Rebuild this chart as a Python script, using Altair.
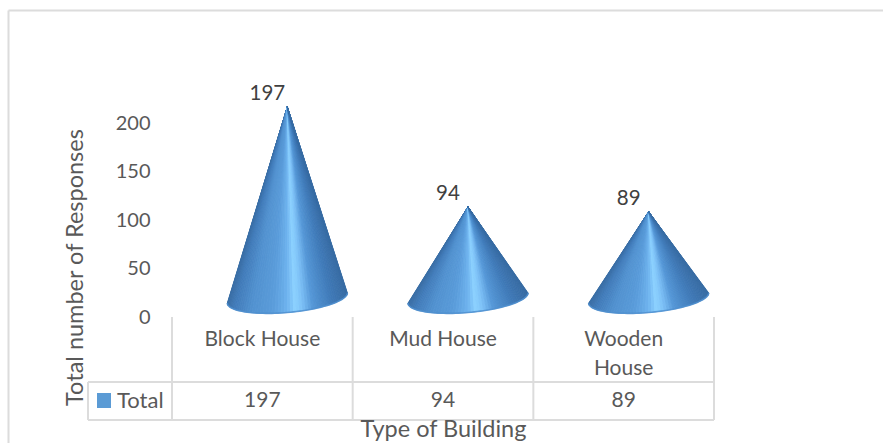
import altair as alt
import numpy as np
import pandas as pd

# Survey counts per building type
categories = ["Block House", "Mud House", "Wooden House"]
category_lines = ["Block House", "Mud House", "Wooden\nHouse"]
responses = [197, 94, 89]
y_ticks = [0, 50, 100, 150, 200]

# Layout of the plot area inside the 883x443 canvas
LEFT, TOP, PLOT_W, PLOT_H = 172, 30, 542, 287
PX_PER_VALUE = 0.97
PX_PER_COLUMN = PLOT_W / len(categories)
Y_DOMAIN = [-19 / PX_PER_VALUE, (PLOT_H - 19) / PX_PER_VALUE]

FONT = "Lato"
TEXT = "#595959"
LINE = "#dcdcdc"

# Cone geometry, in pixels relative to the base centre
CONE_SHIFT = 25
RADIUS_X, RADIUS_Y, BASE_TILT = 60, 14.5, 0.085
SECTORS = 60
SHADE_AT = [0.0, 0.06, 0.2, 0.38, 0.5, 0.57, 0.63, 0.72, 0.88, 1.0]
SHADE_RGB = [
    (58, 110, 165), (66, 124, 186), (82, 146, 208), (90, 156, 218), (110, 178, 238),
    (141, 210, 255), (124, 192, 246), (84, 150, 214), (64, 122, 184), (56, 108, 164),
]


def shade(fraction):
    rgb = [np.interp(fraction, SHADE_AT, [c[i] for c in SHADE_RGB]) for i in range(3)]
    return "#%02x%02x%02x" % tuple(int(round(v)) for v in rgb)


def base_point(index, theta):
    """Front rim point of a cone's base, in axis units."""
    dx = RADIUS_X * np.cos(theta)
    dy = -RADIUS_Y * np.sin(theta) - BASE_TILT * dx
    return index + 0.5 + (CONE_SHIFT + dx) / PX_PER_COLUMN, -dy / PX_PER_VALUE


sector_rows, rim_rows = [], []
thetas = np.linspace(np.pi, 2 * np.pi, SECTORS + 1)
for i, (name, value) in enumerate(zip(categories, responses)):
    tip = (i + 0.5 + CONE_SHIFT / PX_PER_COLUMN, value)
    for s in range(SECTORS):
        mid = (np.cos((thetas[s] + thetas[s + 1]) / 2) + 1) / 2
        corners = [tip, base_point(i, thetas[s]), base_point(i, thetas[s + 1])]
        for k, (px, py) in enumerate(corners):
            sector_rows.append(
                dict(sector=f"{name}-{s}", step=k, pos=px, val=py, tone=shade(mid))
            )
    for s, t in enumerate(thetas):
        px, py = base_point(i, t)
        rim_rows.append(dict(cone=name, step=s, pos=px, val=py))

x_scale = alt.Scale(domain=[0, len(categories)], nice=False, zero=False)
y_scale = alt.Scale(domain=Y_DOMAIN, nice=False, zero=False)

# Every layer carries the same axis definitions so they merge into one pair of axes
x_axis = alt.Axis(
    values=[], labels=False, ticks=False, domain=False, grid=False, zindex=1,
    title="Type of Building", titleFont=FONT, titleFontSize=23.5, titleFontWeight="normal",
    titleColor=TEXT, titleX=271, titleY=112, titleBaseline="middle", titleAlign="center",
)
y_axis = alt.Axis(
    values=y_ticks, labelOffset=19, ticks=False, domain=False, grid=False, labelPadding=22,
    labelFont=FONT, labelFontSize=20, labelColor=TEXT,
    title="Total number of Responses", titleFont=FONT, titleFontSize=23.5,
    titleFontWeight="normal", titleColor=TEXT, titleAngle=270, titleX=-97, titleY=237,
    titleAlign="center", titleBaseline="middle",
)


def x_enc(field):
    return alt.X(field, scale=x_scale, axis=x_axis)


def y_enc(field):
    return alt.Y(field, scale=y_scale, axis=y_axis)


cones = (
    alt.Chart(pd.DataFrame(sector_rows))
    .mark_line(interpolate="linear-closed", strokeWidth=0.9)
    .encode(
        x=x_enc("pos:Q"),
        y=y_enc("val:Q"),
        detail="sector:N",
        order="step:Q",
        stroke=alt.Stroke("tone:N", scale=None),
        fill=alt.Fill("tone:N", scale=None),
    )
)

rims = (
    alt.Chart(pd.DataFrame(rim_rows))
    .mark_line(color="#4f8fcf", strokeWidth=1.6, opacity=0.85)
    .encode(x=x_enc("pos:Q"), y=y_enc("val:Q"), detail="cone:N", order="step:Q")
)

table = pd.DataFrame(
    dict(
        name=category_lines,
        value=responses,
        mid=[i + 0.5 for i in range(len(categories))],
        label_pos=[i + 0.5 + 5 / PX_PER_COLUMN for i in range(len(categories))],
    )
)

value_labels = (
    alt.Chart(table)
    .mark_text(font=FONT, fontSize=20.5, color="#404040", dy=-13)
    .encode(x=x_enc("label_pos:Q"), y=y_enc("value:Q"), text="value:Q")
)

category_labels = (
    alt.Chart(table)
    .mark_text(font=FONT, fontSize=21, color=TEXT, lineBreak="\n", lineHeight=29, baseline="top")
    .encode(x=x_enc("mid:Q"), y=alt.value(299), text="name:N")
)

row_values = (
    alt.Chart(table)
    .mark_text(font=FONT, fontSize=21, color=TEXT, baseline="middle")
    .encode(x=x_enc("mid:Q"), y=alt.value(371), text="value:Q")
)

# Data-table furniture below the plot
columns = pd.DataFrame(dict(edge=list(range(len(categories) + 1))))
table_verticals = (
    alt.Chart(columns)
    .mark_rule(color=LINE, strokeWidth=2)
    .encode(x=x_enc("edge:Q"), y=alt.value(287), y2=alt.value(390))
)


def rule(x, x2, y, y2, width=2, color=LINE):
    return (
        alt.Chart(pd.DataFrame({"k": [0]}))
        .mark_rule(color=color, strokeWidth=width)
        .encode(x=alt.value(x), x2=alt.value(x2), y=alt.value(y), y2=alt.value(y2))
    )


table_lines = [
    rule(-84, 542, 352, 352),
    rule(-84, 542, 390, 390),
    rule(-84, -84, 352, 390),
]
frame = [
    rule(-163.5, 711, -19.5, -19.5),
    rule(-163.5, -163.5, -19.5, 413),
]

swatch = (
    alt.Chart(pd.DataFrame({"k": [0]}))
    .mark_rect(color="#5b9bd5")
    .encode(x=alt.value(-75), x2=alt.value(-61), y=alt.value(363), y2=alt.value(378))
)
series_name = (
    alt.Chart(pd.DataFrame(dict(name=["Total"])))
    .mark_text(font=FONT, fontSize=22, color=TEXT, align="left", baseline="middle")
    .encode(x=alt.value(-55), y=alt.value(371), text="name:N")
)

chart = (
    alt.layer(
        cones, *frame, table_verticals, *table_lines, rims, value_labels,
        category_labels, row_values, swatch, series_name,
    )
    .properties(
        width=PLOT_W,
        height=PLOT_H,
        background="white",
        autosize=alt.AutoSizeParams(type="none"),
        padding={"left": LEFT, "top": TOP, "right": 883 - LEFT - PLOT_W, "bottom": 443 - TOP - PLOT_H},
    )
    .configure_view(strokeWidth=0, stroke="transparent")
)

chart.save("out.html", embed_options={"renderer": "svg", "actions": False})
